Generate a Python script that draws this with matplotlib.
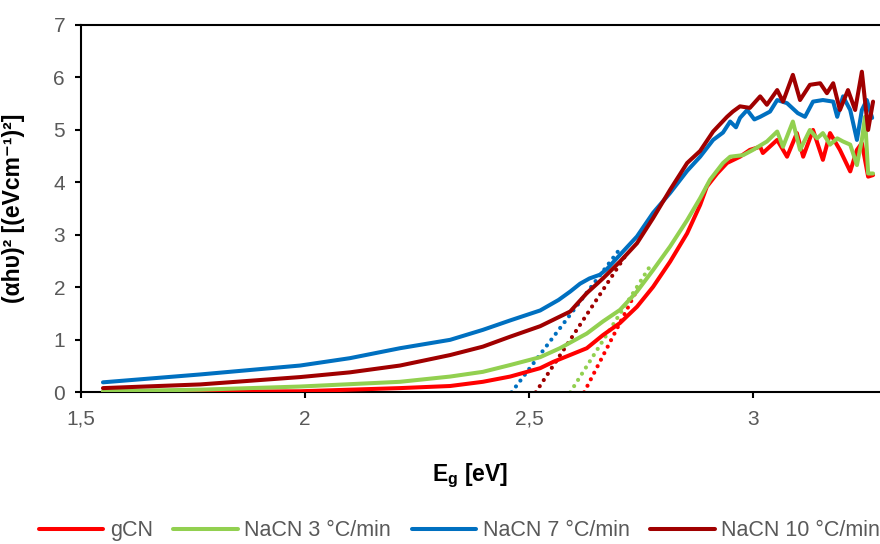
import numpy as np
import matplotlib
matplotlib.use("Agg")
import matplotlib.pyplot as plt
from matplotlib.ticker import FixedLocator, FixedFormatter

plt.rcParams['font.family'] = ['Liberation Sans', 'DejaVu Sans']
plt.rcParams['mathtext.fontset'] = 'custom'
plt.rcParams['mathtext.bf'] = 'Liberation Sans:bold'
plt.rcParams['mathtext.rm'] = 'Liberation Sans'

# Tauc plot data, (alpha h nu)^2 vs photon energy
eg_gcn = [1.549, 1.766, 1.989, 2.212, 2.324, 2.397, 2.458, 2.525, 2.554, 2.629, 2.665,
          2.703, 2.741, 2.777, 2.815, 2.853, 2.882, 2.897, 2.920, 2.942, 2.971, 2.993,
          3.016, 3.022, 3.054, 3.076, 3.098, 3.112, 3.134, 3.156, 3.172, 3.194, 3.217,
          3.232, 3.243, 3.257, 3.268]
ah_gcn = [0.00, 0.01, 0.02, 0.08, 0.12, 0.20, 0.30, 0.46, 0.58, 0.84, 1.09,
          1.32, 1.63, 2.01, 2.49, 3.03, 3.57, 3.92, 4.17, 4.37, 4.49, 4.62,
          4.68, 4.56, 4.81, 4.49, 4.94, 4.49, 5.00, 4.43, 4.94, 4.62, 4.21,
          4.62, 4.75, 4.11, 4.14]

eg_na3 = [1.549, 1.766, 1.989, 2.212, 2.324, 2.397, 2.458, 2.525, 2.569, 2.629, 2.665,
          2.703, 2.741, 2.777, 2.815, 2.853, 2.882, 2.904, 2.933, 2.949, 2.978, 3.000,
          3.031, 3.054, 3.067, 3.089, 3.105, 3.127, 3.143, 3.156, 3.172, 3.188, 3.201,
          3.217, 3.232, 3.243, 3.250, 3.257, 3.268]
ah_na3 = [0.02, 0.05, 0.11, 0.20, 0.30, 0.39, 0.52, 0.67, 0.84, 1.12, 1.35,
          1.57, 1.92, 2.33, 2.78, 3.28, 3.70, 4.05, 4.37, 4.49, 4.52, 4.62,
          4.78, 4.97, 4.68, 5.16, 4.62, 5.00, 4.84, 4.94, 4.72, 4.84, 4.78,
          4.72, 4.33, 4.81, 5.25, 4.17, 4.17]

eg_na7 = [1.549, 1.766, 1.989, 2.100, 2.212, 2.324, 2.397, 2.458, 2.525, 2.566, 2.592,
          2.614, 2.635, 2.658, 2.674, 2.703, 2.741, 2.777, 2.815, 2.853, 2.882, 2.911,
          2.933, 2.949, 2.962, 2.971, 2.987, 3.003, 3.016, 3.038, 3.054, 3.076, 3.100,
          3.116, 3.134, 3.156, 3.179, 3.188, 3.201, 3.217, 3.232, 3.243, 3.254, 3.266]
ah_na7 = [0.19, 0.34, 0.51, 0.65, 0.84, 1.00, 1.19, 1.37, 1.56, 1.76, 1.92,
          2.07, 2.17, 2.24, 2.35, 2.62, 2.97, 3.42, 3.80, 4.22, 4.49, 4.81,
          4.95, 5.16, 5.05, 5.23, 5.38, 5.20, 5.25, 5.35, 5.57, 5.51, 5.32,
          5.25, 5.54, 5.57, 5.54, 5.25, 5.64, 5.38, 4.81, 5.38, 5.57, 5.23]

eg_na10 = [1.549, 1.766, 1.989, 2.100, 2.212, 2.324, 2.397, 2.458, 2.525, 2.592, 2.629,
           2.665, 2.703, 2.741, 2.777, 2.815, 2.853, 2.882, 2.911, 2.942, 2.955, 2.971,
           2.993, 3.016, 3.031, 3.054, 3.067, 3.089, 3.105, 3.127, 3.150, 3.165, 3.179,
           3.194, 3.212, 3.228, 3.243, 3.257, 3.268]
ah_na10 = [0.08, 0.15, 0.29, 0.38, 0.51, 0.71, 0.87, 1.06, 1.26, 1.54, 1.89,
           2.17, 2.49, 2.84, 3.32, 3.86, 4.37, 4.60, 4.97, 5.25, 5.35, 5.45,
           5.42, 5.64, 5.48, 5.76, 5.54, 6.05, 5.57, 5.86, 5.89, 5.70, 5.89,
           5.38, 5.76, 5.38, 6.11, 5.00, 5.54]

# linear fits of the absorption edge (start at the x intercept)
fit_x = {'gCN': [2.623, 2.744], 'NaCN3': [2.592, 2.770],
         'NaCN7': [2.461, 2.700], 'NaCN10': [2.515, 2.715]}
fit_y = {'gCN': [0.0, 2.0], 'NaCN3': [0.0, 2.4],
         'NaCN7': [0.0, 2.7], 'NaCN10': [0.0, 2.6]}

series = [
    ('gCN', 'gCN', eg_gcn, ah_gcn, '#FF0000'),
    ('NaCN3', 'NaCN 3 °C/min', eg_na3, ah_na3, '#92D050'),
    ('NaCN7', 'NaCN 7 °C/min', eg_na7, ah_na7, '#0070C0'),
    ('NaCN10', 'NaCN 10 °C/min', eg_na10, ah_na10, '#A00000'),
]

fig = plt.figure(figsize=(8.8, 5.44), dpi=100)
ax = fig.add_axes([81 / 880, 1 - 392.3 / 544, 798 / 880, 367.3 / 544])

for key, name, xs, ys, col in series:
    ax.plot(fit_x[key], fit_y[key], color=col, lw=3.0,
            linestyle=(0, (0.01, 1.75)), dash_capstyle='round', zorder=2)

for key, name, xs, ys, col in series:
    ax.plot(xs, ys, color=col, lw=2.9, label=name, solid_joinstyle='round',
            solid_capstyle='round', zorder=3)

ax.set_xlim(1.5, 1.5 + 798 / 448)
ax.set_ylim(0, 7)

for side in ['left', 'bottom', 'top']:
    ax.spines[side].set_linewidth(1.5)
    ax.spines[side].set_color('black')
ax.spines['right'].set_visible(False)

ax.xaxis.set_major_locator(FixedLocator([1.5, 2, 2.5, 3]))
ax.xaxis.set_major_formatter(FixedFormatter(['1,5', '2', '2,5', '3']))
ax.set_yticks(range(0, 8))
ax.tick_params(axis='both', direction='out', length=4.5, width=1.5,
               labelsize=15, labelcolor='#595959', color='black')
ax.tick_params(axis='x', pad=8)
ax.tick_params(axis='y', pad=7)

ax.set_xlabel(r'E$_\mathbf{g}$ [eV]', fontsize=16.5, fontweight='bold')
ax.xaxis.set_label_coords(0.487, -0.19)
ax.set_ylabel('(αhυ)² [(eVcm⁻¹)²]', fontsize=16.5, fontweight='bold',
              family=['Liberation Sans', 'DejaVu Sans'])
ax.yaxis.set_label_coords(-0.07, 0.5)

fig.legend(loc='center', bbox_to_anchor=(0.522, 0.024), ncol=4, frameon=False,
           fontsize=15.5, handlelength=3.0, handletextpad=0.3, columnspacing=0.95,
           labelcolor='#595959')

fig.savefig('out.png', dpi=100)
